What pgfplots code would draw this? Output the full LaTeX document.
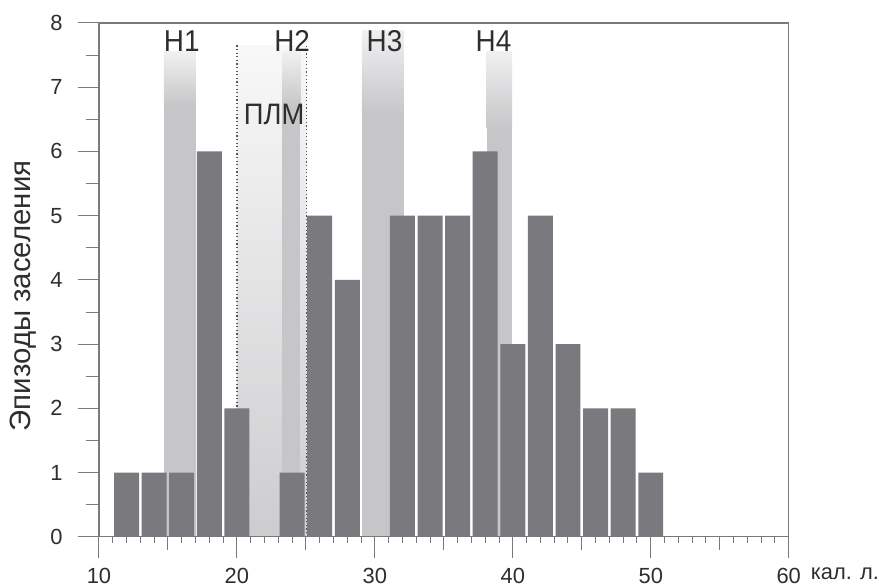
\documentclass[border=0pt]{standalone}
\usepackage{fontspec}
\setmainfont{Liberation Sans}
\usepackage{graphicx}
\usepackage{pgfplots}
\pgfplotsset{compat=1.18}
\definecolor{barc}{HTML}{7A7A7E}
\definecolor{bandc}{HTML}{C6C6C8}
\definecolor{bandtop}{HTML}{F0F0F1}
\definecolor{plmtop}{HTML}{F8F8F9}
\definecolor{plmbot}{HTML}{CDCDCF}
\definecolor{txt}{HTML}{2E2E2E}
\definecolor{axc}{HTML}{7A7A7A}
\definecolor{dotc}{HTML}{555555}
\newcommand{\hl}[1]{\scalebox{1}[1.08]{#1}}
\begin{document}
\begin{tikzpicture}
\begin{axis}[name=ax, scale only axis, width=690bp, height=514bp,
  xmin=10, xmax=60, ymin=0, ymax=8,
  xtick={10,20,...,60}, ytick={0,...,8},
  minor x tick num=9,
  extra x ticks={15,25,35,45,55}, extra x tick labels={},
  extra x tick style={major tick length=13bp},
  extra y ticks={0.5,1.5,...,7.5}, extra y tick labels={},
  extra y tick style={major tick length=13bp},
  major tick length=21bp, minor tick length=6bp,
  tick align=outside, xtick pos=bottom, ytick pos=left,
  axis line style={draw=axc, line width=1.3bp},
  every tick/.style={draw=axc, line width=1bp},
  tick label style={font=\fontsize{22}{26}\selectfont, text=txt},
  xticklabel style={yshift=-7bp},
  yticklabel style={xshift=-12bp},
  /pgf/number format/assume math mode=true,
  clip=false, axis on top,
]
% PLM region
\addplot[draw=none, top color=plmtop, bottom color=plmbot] coordinates {(20,7.65)(25.05,7.65)} \closedcycle;
\addplot[draw=dotc, line width=1.2bp, dash pattern=on 1.2bp off 2.4bp] coordinates {(20,7.65)(20,0)(25.05,0)};
% H bands
\addplot[draw=none, fill=bandc] coordinates {(14.7,6.7)(17,6.7)} \closedcycle;
\addplot[draw=none, top color=bandtop, bottom color=bandc] coordinates {(14.7,6.7)(14.7,7.55)(17,7.55)(17,6.7)} -- cycle;
\addplot[draw=none, fill=bandc] coordinates {(23.3,6.7)(24.6,6.7)} \closedcycle;
\addplot[draw=none, top color=bandtop, bottom color=bandc] coordinates {(23.3,6.7)(23.3,7.55)(24.6,7.55)(24.6,6.7)} -- cycle;
\addplot[draw=none, fill=bandc] coordinates {(29.05,6.57)(32.1,6.57)} \closedcycle;
\addplot[draw=none, top color=bandtop, bottom color=bandc] coordinates {(29.05,6.57)(29.05,7.88)(32.1,7.88)(32.1,6.57)} -- cycle;
\addplot[draw=none, fill=bandc] coordinates {(38.1,6.35)(39.95,6.35)} \closedcycle;
\addplot[draw=none, top color=bandtop, bottom color=bandc] coordinates {(38.1,6.35)(38.1,7.55)(39.95,7.55)(39.95,6.35)} -- cycle;
% bars
\addplot[ybar, bar width=1.81, fill=barc, draw=none] coordinates {
(12,1)(14,1)(16,1)(18,6)(20,2)(24,1)(26,5)(28,4)(32,5)(34,5)(36,5)(38,6)(40,3)(42,5)(44,3)(46,2)(48,2)(50,1)};
\addplot[draw=dotc, line width=1.2bp, dash pattern=on 1.2bp off 2.4bp] coordinates {(25.05,0)(25.05,7.65)};
% labels
\node[font=\fontsize{28}{32}\selectfont, text=txt] at (axis cs:16,7.72) {\hl{H1}};
\node[font=\fontsize{28}{32}\selectfont, text=txt] at (axis cs:24,7.72) {\hl{H2}};
\node[font=\fontsize{28}{32}\selectfont, text=txt] at (axis cs:30.7,7.72) {\hl{H3}};
\node[font=\fontsize{28}{32}\selectfont, text=txt] at (axis cs:38.6,7.72) {\hl{H4}};
\node[font=\fontsize{27.5}{32}\selectfont, text=txt] at (axis cs:22.7,6.57) {\hl{ПЛМ}};
\node[anchor=base west, font=\fontsize{22}{26}\selectfont, text=txt, inner sep=0pt] at (axis cs:60,0) [xshift=22bp, yshift=-43bp] {кал. л.};
\end{axis}
\node[rotate=90, font=\fontsize{29.5}{34}\selectfont, text=txt] at ([shift={(-76bp,-16bp)}]ax.west) {Эпизоды заселения};
\path ([shift={(-99bp,-46bp)}]ax.south west) rectangle ([shift={(90bp,23bp)}]ax.north east);
\end{tikzpicture}
\end{document}
